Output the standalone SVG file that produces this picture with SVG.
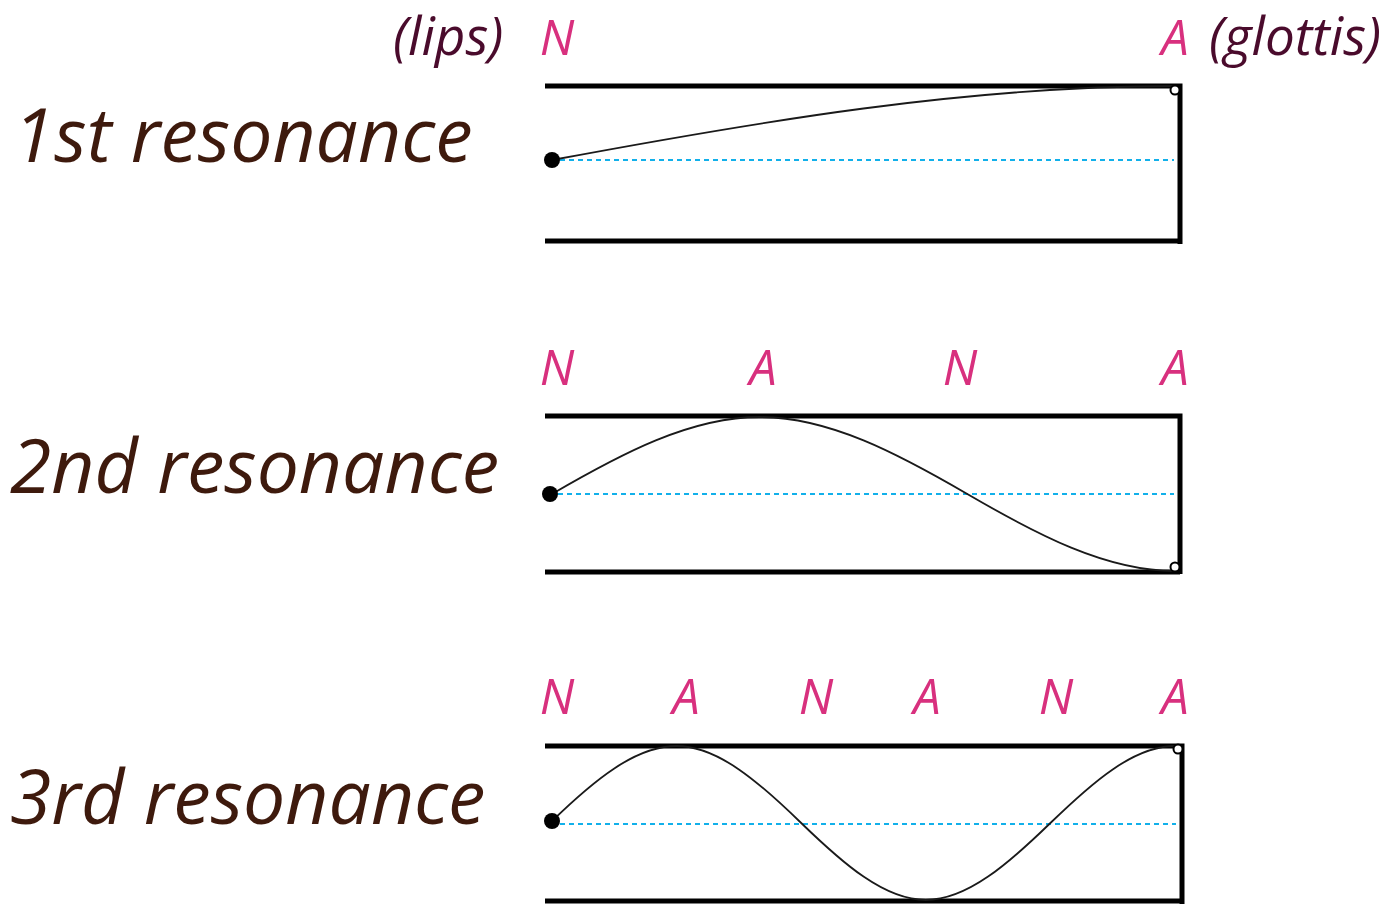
<svg xmlns="http://www.w3.org/2000/svg" width="1387" height="904" viewBox="0 0 1387 904">
<style>
.title{font-family:"Open Sans","Liberation Sans",sans-serif;font-style:italic;font-size:75px;fill:#3e1a0d}
.end{font-family:"Open Sans","Liberation Sans",sans-serif;font-style:italic;font-size:53px;fill:#4a0b2c}
.lbl{font-family:"Open Sans","Liberation Sans",sans-serif;font-style:italic;font-size:49px;fill:#d8307e;text-anchor:middle}
.wall{fill:none;stroke:#000;stroke-width:5}
.axis{fill:none;stroke:#12b0ea;stroke-width:1.8;stroke-dasharray:5,4}
.wave{fill:none;stroke:#1a1a1a;stroke-width:1.8}
.dot{fill:#000}
.ring{fill:#fff;stroke:#000;stroke-width:2}
</style>
<rect width="1387" height="904" fill="#fff"/>
<g id="end-labels">
<text class="end" x="393" y="55">(lips)</text>
<text class="end" x="1209" y="55">(glottis)</text>
</g>
<g id="panel1">
<text class="title" x="13" y="162">1st resonance</text>
<text class="lbl" x="557" y="55">N</text>
<text class="lbl" x="1175" y="55">A</text>
<path class="wall" d="M545 86 H1180 V244 M545 241 H1180"/>
<line class="axis" x1="560" y1="160" x2="1174" y2="160"/>
<path class="wave" d="M552 160 C759.7 121.3 967.3 86 1175 86"/>
<circle class="dot" cx="552" cy="160" r="8"/>
<circle class="ring" cx="1175" cy="90" r="4.5"/>
</g>
<g id="panel2">
<text class="title" x="10" y="493">2nd resonance</text>
<text class="lbl" x="557" y="385">N</text>
<text class="lbl" x="763" y="385">A</text>
<text class="lbl" x="960" y="385">N</text>
<text class="lbl" x="1175" y="385">A</text>
<path class="wall" d="M545 416 H1180 V574 M545 572 H1180"/>
<line class="axis" x1="558" y1="494" x2="1174" y2="494"/>
<path class="wave" d="M552 494 C621.2 453.7 690.4 417 759.7 417 C829 417 898.1 453.7 967.3 494 C1036.5 534.3 1105.8 571 1175 571"/>
<circle class="dot" cx="550" cy="494" r="8"/>
<circle class="ring" cx="1175" cy="567" r="4.5"/>
</g>
<g id="panel3">
<text class="title" x="10" y="824">3rd resonance</text>
<text class="lbl" x="557" y="714">N</text>
<text class="lbl" x="686" y="714">A</text>
<text class="lbl" x="816" y="714">N</text>
<text class="lbl" x="927" y="714">A</text>
<text class="lbl" x="1056" y="714">N</text>
<text class="lbl" x="1175" y="714">A</text>
<path class="wall" d="M545 746 H1182 V904 M545 901 H1182"/>
<line class="axis" x1="560" y1="824" x2="1176" y2="824"/>
<path class="wave" d="M552 821 C593.5 780.7 635.1 746 676.6 746 C718.1 746 759.7 782.7 801.2 823 C842.7 863.3 884.3 900 925.8 900 C967.3 900 1008.9 863.3 1050.4 823 C1091.9 782.7 1133.5 746 1175 746"/>
<circle class="dot" cx="552" cy="821" r="8"/>
<circle class="ring" cx="1178" cy="749" r="4.5"/>
</g>
</svg>
